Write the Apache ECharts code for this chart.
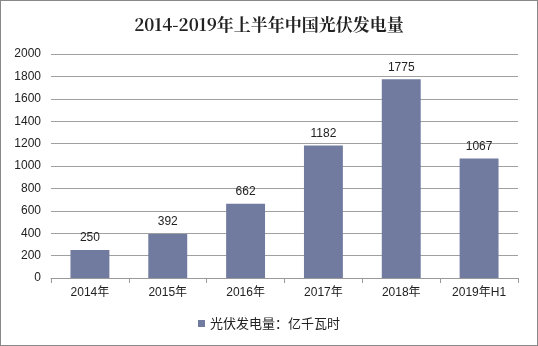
<!DOCTYPE html>
<html><head><meta charset="utf-8">
<script src="https://cdn.jsdelivr.net/npm/echarts@6/dist/echarts.min.js"></script>
<style>html,body{margin:0;padding:0;background:#fff}#c{width:538px;height:346px;box-sizing:border-box;border:1px solid #888}</style>
</head><body><div id="c"></div>
<script>
const categories = ['2014年','2015年','2016年','2017年','2018年','2019年H1'];
const values = [250, 392, 662, 1182, 1775, 1067];
const seriesName = '光伏发电量：亿千瓦时';
const titleText = '2014-2019年上半年中国光伏发电量';
const chart = echarts.init(document.getElementById('c'));
chart.setOption({
  animation:false,
  title:{text:titleText,left:'center',top:10,textStyle:{fontFamily:'"Noto Serif CJK SC","Noto Sans CJK SC",serif',fontSize:17,fontWeight:'bold',color:'#222'}},
  grid:{left:50,right:19,top:53,bottom:67},
  legend:{bottom:10,left:'center',itemWidth:7,itemHeight:7,icon:'rect',textStyle:{fontFamily:'"Noto Sans CJK SC",sans-serif',fontSize:13,color:'#222'},data:[seriesName]},
  xAxis:{type:'category',data:categories,axisLine:{lineStyle:{color:'#999'}},axisTick:{show:true,length:5,lineStyle:{color:'#999'}},axisLabel:{color:'#222',fontSize:12,fontFamily:'Arial,"Liberation Sans","Noto Sans CJK SC",sans-serif',margin:9}},
  yAxis:{type:'value',min:0,max:2000,interval:200,axisLine:{show:false},axisTick:{show:false},splitLine:{lineStyle:{color:'#a0a0a0'}},axisLabel:{color:'#222',fontSize:12,fontFamily:'Arial,"Liberation Sans",sans-serif',margin:10,formatter:v=>String(v)}},
  series:[{name:seriesName,type:'bar',data:values,barWidth:'50%',itemStyle:{color:'#717ba0'},label:{show:true,position:'top',color:'#222',fontSize:12,fontFamily:'Arial,"Liberation Sans",sans-serif',distance:6}}]
});
</script></body></html>
